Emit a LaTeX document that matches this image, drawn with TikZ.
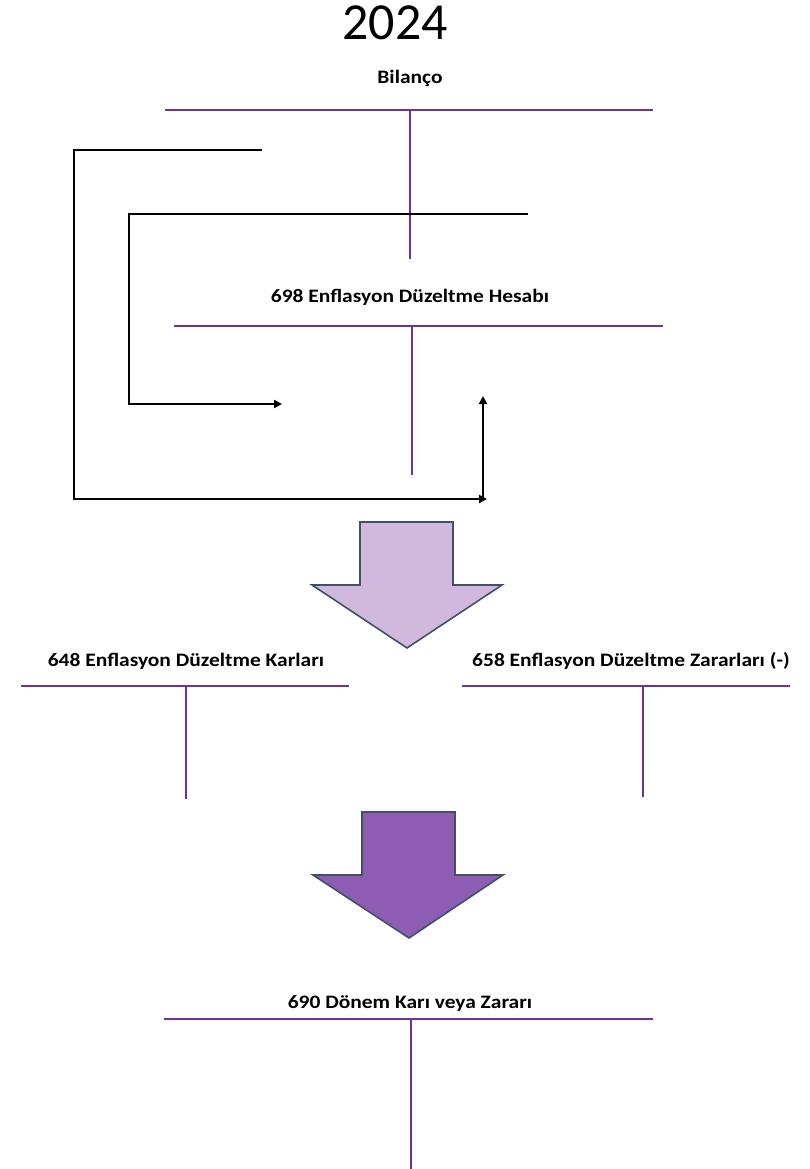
\documentclass[tikz,border=0pt]{standalone}
\usepackage{fontspec}
\setmainfont{Carlito}
\usetikzlibrary{arrows.meta}
\definecolor{tpurple}{HTML}{7030A0}
\definecolor{arrowline}{HTML}{3F5168}
\definecolor{lightfill}{HTML}{D1B9DE}
\definecolor{darkfill}{HTML}{8E5CB3}
\newcommand{\wide}[1]{\scalebox{1.13}[1]{#1}}
\begin{document}
\begin{tikzpicture}[x=1pt,y=-1pt,
  tline/.style={draw=tpurple,line width=1.8pt},
  flow/.style={draw=black,line width=2pt,-{Triangle[length=8pt,width=8pt]}},
  acct/.style={font=\fontsize{19}{22}\selectfont\bfseries,inner sep=0pt,anchor=base},
  blockarrow/.style={draw=arrowline,line width=1.6pt,line join=miter}]
\useasboundingbox (0,0) rectangle (810,1169);
% title
\node[font=\fontsize{52}{60}\selectfont,inner sep=0pt,anchor=base] (year) at (395,40) {2024};
% Bilanco
\node[acct] (bil) at (410,84) {\wide{Bilanço}};
\draw[tline] (165,110) -- (653,110);
\draw[tline] (410,110) -- (410,259);
% 698
\node[acct] (h698) at (410,302) {\wide{698 Enflasyon Düzeltme Hesabı}};
\draw[tline] (174,326) -- (663,326);
\draw[tline] (412,326) -- (412,475);
% connectors
\coordinate (b1s) at (262,150);
\coordinate (b1a) at (74,150);
\coordinate (b1b) at (74,499);
\coordinate (b1e) at (487,499);
\draw[flow] (b1s) -- (b1a) -- (b1b) -- (b1e);
\coordinate (b2s) at (528,214);
\coordinate (b2a) at (129,214);
\coordinate (b2b) at (129,404);
\coordinate (b2e) at (282,404);
\draw[flow] (b2s) -- (b2a) -- (b2b) -- (b2e);
\coordinate (upS) at (483,500);
\coordinate (upE) at (483,396);
\draw[flow] (upS) -- (upE);
% light block arrow
\draw[blockarrow,fill=lightfill] (360,522) -- (453,522) -- (453,585) -- (502,585) -- (407,648) -- (312,585) -- (360,585) -- cycle;
% 648 / 658
\node[acct] (k648) at (186,666) {\wide{648 Enflasyon Düzeltme Karları}};
\node[acct] (z658) at (631,666) {\wide{658 Enflasyon Düzeltme Zararları (-)}};
\draw[tline] (21,686) -- (349,686);
\draw[tline] (186,686) -- (186,799);
\draw[tline] (462,686) -- (790,686);
\draw[tline] (643,686) -- (643,797);
% dark block arrow
\draw[blockarrow,fill=darkfill] (362,812) -- (455,812) -- (455,875) -- (503,875) -- (409,938) -- (313,875) -- (362,875) -- cycle;
% 690
\node[acct] (d690) at (410,1008) {\wide{690 Dönem Karı veya Zararı}};
\draw[tline] (164,1019) -- (653,1019);
\draw[tline] (411,1019) -- (411,1169);
\end{tikzpicture}
\end{document}
